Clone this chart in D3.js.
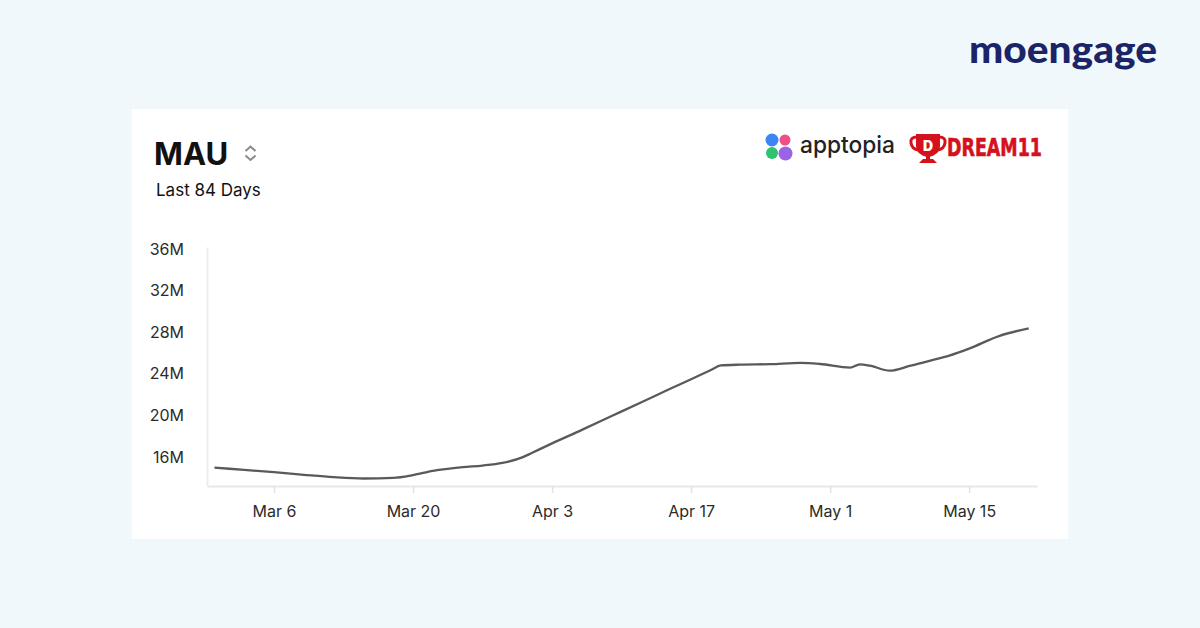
<!DOCTYPE html>
<html><head><meta charset="utf-8">
<script src="https://cdn.jsdelivr.net/npm/d3@7"></script>
<style>html,body{margin:0;padding:0;background:#f0f8fc;} svg{display:block}</style>
</head><body><svg id="c" width="1200" height="628"></svg>
<script>
// ---- data (MAU in millions) ----
const dates = ["2023-02-28","2023-03-03","2023-03-06","2023-03-09","2023-03-12","2023-03-15","2023-03-18","2023-03-20","2023-03-22","2023-03-25","2023-03-27","2023-03-29","2023-03-31","2023-04-01","2023-04-03","2023-04-06","2023-04-09","2023-04-12","2023-04-15","2023-04-17","2023-04-19","2023-04-20","2023-04-22","2023-04-25","2023-04-28","2023-04-30","2023-05-03","2023-05-04","2023-05-05","2023-05-07","2023-05-09","2023-05-11","2023-05-13","2023-05-15","2023-05-18","2023-05-21"];
const mau = [14.97,14.75,14.53,14.28,14.05,13.92,13.98,14.25,14.66,15.02,15.17,15.42,15.95,16.40,17.30,18.60,19.93,21.26,22.60,23.48,24.37,24.80,24.88,24.93,25.05,24.94,24.59,24.91,24.78,24.30,24.75,25.25,25.75,26.42,27.63,28.37];
const yTickValues = [16,20,24,28,32,36];
const xTickDates = ["2023-03-06","2023-03-20","2023-04-03","2023-04-17","2023-05-01","2023-05-15"];
const titleText = "MAU";
const subtitleText = "Last 84 Days";

const parse = d3.timeParse("%Y-%m-%d");
const data = dates.map((d,i)=>({date:parse(d), v:mau[i]}));

const svg = d3.select("#c");
const FONT = "Inter, 'Open Sans', sans-serif";

svg.append("rect").attr("width",1200).attr("height",628).attr("fill","#f0f8fc");
svg.append("rect").attr("x",132).attr("y",109).attr("width",936).attr("height",430).attr("fill","#ffffff");

// moengage logo
svg.append("text").attr("x",969).attr("y",63).text("moengage")
  .attr("font-family","Lato, Inter, sans-serif").attr("font-weight",900).attr("font-size",38)
  .attr("fill","#1b2466").attr("textLength",188).attr("lengthAdjust","spacingAndGlyphs");

// apptopia logo
const ap = svg.append("g");
ap.append("circle").attr("cx",772).attr("cy",140).attr("r",6.5).attr("fill","#3d84f5");
ap.append("circle").attr("cx",785).attr("cy",140).attr("r",5.5).attr("fill","#ef4f86");
ap.append("circle").attr("cx",772).attr("cy",153).attr("r",6).attr("fill","#2fc36f");
ap.append("circle").attr("cx",785.5).attr("cy",153.5).attr("r",7).attr("fill","#9d63e6");
ap.append("text").attr("x",800).attr("y",153).text("apptopia")
  .attr("font-family",FONT).attr("font-weight",500).attr("font-size",24).attr("fill","#222")
  .attr("textLength",95).attr("lengthAdjust","spacingAndGlyphs");

// dream11 logo
const dr = svg.append("g").attr("fill","#d4111c");
dr.append("path").attr("d","M916,134 H940 V146 Q940,155 928,157 Q916,155 916,146 Z");
dr.append("path").attr("d","M917,137 Q910,137 911,143 Q912,149 918,150").attr("fill","none").attr("stroke","#d4111c").attr("stroke-width",3);
dr.append("path").attr("d","M939,137 Q946,137 945,143 Q944,149 938,150").attr("fill","none").attr("stroke","#d4111c").attr("stroke-width",3);
dr.append("rect").attr("x",926).attr("y",156).attr("width",4).attr("height",4);
dr.append("path").attr("d","M919,163 L937,163 L933,159 L923,159 Z");
dr.append("text").attr("x",928).attr("y",151).attr("text-anchor","middle").text("D")
  .attr("font-family",FONT).attr("font-weight",900).attr("font-size",14).attr("fill","#fff");
svg.append("text").attr("x",947).attr("y",156).text("DREAM11")
  .attr("font-family","'Liberation Sans Narrow', 'DejaVu Sans Condensed', sans-serif").attr("font-weight",700).attr("font-size",25)
  .attr("fill","#d4111c").attr("stroke","#d4111c").attr("stroke-width",0.6)
  .attr("textLength",95).attr("lengthAdjust","spacingAndGlyphs");

// title
svg.append("text").attr("x",154).attr("y",165).text(titleText)
  .attr("font-family",FONT).attr("font-weight",700).attr("font-size",31).attr("fill","#111");
svg.append("path").attr("d","M245.5,151 L250.5,146.5 L255.5,151 M245.5,155.5 L250.5,160 L255.5,155.5")
  .attr("fill","none").attr("stroke","#8a8a8a").attr("stroke-width",2);
svg.append("text").attr("x",156).attr("y",196).text(subtitleText)
  .attr("font-family",FONT).attr("font-weight",400).attr("font-size",17).attr("fill","#111");

// scales
const x = d3.scaleTime().domain([new Date(2023,1,27,6), new Date(2023,4,21,20)]).range([207,1037]);
const y = d3.scaleLinear().domain([13.2,36.2]).range([486,247]);

// axes
const xa = svg.append("g").attr("transform","translate(0,486)")
  .call(d3.axisBottom(x).tickValues(xTickDates.map(parse)).tickFormat(d3.timeFormat("%b %-d"))
    .tickSize(7).tickSizeOuter(0).tickPadding(13));
xa.select(".domain").attr("stroke","#e8e8e8").attr("stroke-width",2);
xa.selectAll(".tick line").attr("stroke","#e2e2e2").attr("stroke-width",1.5);
xa.selectAll(".tick text").attr("font-family",FONT).attr("font-size",16).attr("fill","#2b2b2b");

const ya = svg.append("g").attr("transform","translate(207,0)")
  .call(d3.axisLeft(y).tickValues(yTickValues).tickFormat(d=>d+"M").tickSize(0).tickSizeOuter(0).tickPadding(23));
ya.select(".domain").attr("stroke","#ececec").attr("stroke-width",2);
ya.selectAll(".tick text").attr("font-family",FONT).attr("font-size",16).attr("fill","#2b2b2b");

// line
svg.append("path").datum(data)
  .attr("d", d3.line().x(d=>x(d.date)).y(d=>y(d.v)).curve(d3.curveMonotoneX))
  .attr("fill","none").attr("stroke","#5a5a5a").attr("stroke-width",2.3).attr("stroke-linejoin","round");
</script>
</body></html>
